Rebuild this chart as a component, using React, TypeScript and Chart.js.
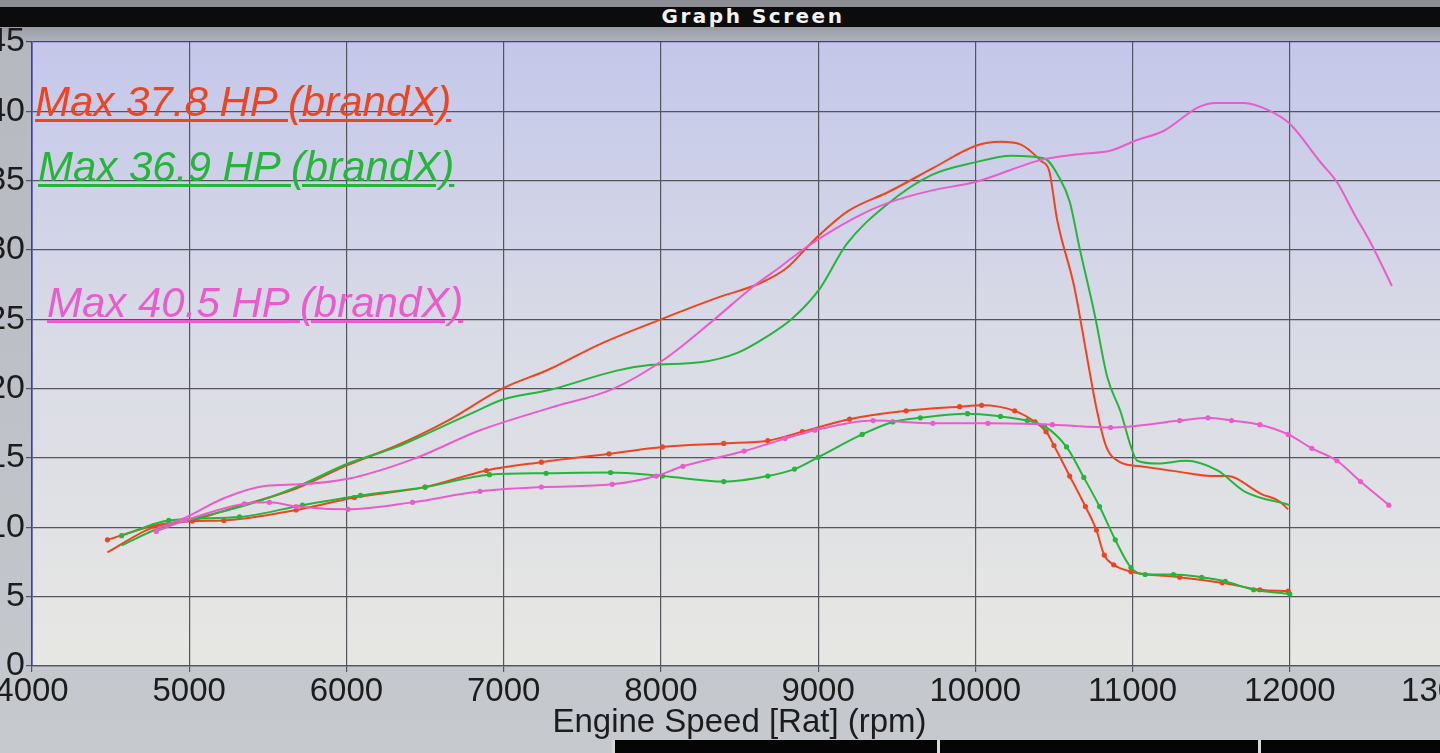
import React, { useEffect, useRef } from 'react';
import { Chart, ChartOptions, Plugin, registerables } from 'chart.js';

Chart.register(...registerables);

// rpm ticks and value ticks of the dyno screen
const rpmTicks = [4000, 5000, 6000, 7000, 8000, 9000, 10000, 11000, 12000, 13000];
const valueTicks = [0, 5, 10, 15, 20, 25, 30, 35, 40, 45];

// red run (Max 37.8 HP)
const redHpRpm = [4480, 4770, 5020, 5280, 5680, 6010, 6320, 6630, 6990, 7290, 7610, 8000, 8370, 8630, 8800, 8930, 9010, 9190, 9450, 9730, 10000, 10160, 10290, 10420, 10470, 10520, 10630, 10710, 10770, 10830, 10920, 11050, 11300, 11500, 11600, 11820, 11930, 11990];
const redHp = [8.2, 10.0, 10.5, 11.4, 12.8, 14.5, 15.9, 17.6, 20.0, 21.4, 23.2, 25.0, 26.6, 27.6, 28.7, 30.2, 31.1, 32.8, 34.2, 35.9, 37.5, 37.8, 37.6, 36.4, 35.7, 32.2, 27.3, 22.3, 18.6, 15.9, 14.7, 14.4, 14.0, 13.7, 13.7, 12.4, 11.9, 11.3];
const redTqRpm = [4480, 4770, 5020, 5220, 5680, 6050, 6500, 6890, 7240, 7670, 8010, 8400, 8680, 8900, 9200, 9560, 9900, 10040, 10250, 10380, 10450, 10500, 10600, 10700, 10770, 10820, 10880, 10990, 11300, 11570, 11810, 11990];
const redTq = [9.1, 10.1, 10.45, 10.5, 11.25, 12.15, 12.9, 14.1, 14.7, 15.3, 15.8, 16.05, 16.25, 16.9, 17.8, 18.4, 18.7, 18.8, 18.4, 17.6, 16.9, 15.9, 13.7, 11.5, 9.8, 8.0, 7.3, 6.8, 6.4, 6.0, 5.5, 5.4];

// green run (Max 36.9 HP)
const greenHpRpm = [4570, 4800, 5020, 5390, 5680, 6010, 6320, 6520, 6830, 6990, 7290, 7720, 7930, 8250, 8490, 8680, 8830, 9010, 9180, 9440, 9720, 9990, 10230, 10440, 10530, 10600, 10660, 10760, 10840, 10925, 10990, 11030, 11160, 11340, 11540, 11710, 12000];
const greenHp = [8.7, 9.9, 10.6, 11.7, 12.9, 14.6, 15.8, 16.8, 18.4, 19.2, 19.9, 21.3, 21.7, 21.9, 22.6, 23.8, 25.0, 27.2, 30.4, 33.3, 35.4, 36.3, 36.8, 36.6, 35.3, 33.5, 30.3, 25.3, 20.8, 18.3, 15.8, 14.8, 14.6, 14.8, 14.1, 12.6, 11.6];
const greenTqRpm = [4570, 4870, 5320, 5720, 6090, 6500, 6910, 7270, 7680, 8010, 8400, 8680, 8850, 9000, 9280, 9475, 9650, 9950, 10160, 10330, 10440, 10580, 10690, 10790, 10890, 10990, 11080, 11260, 11440, 11590, 11770, 12000];
const greenTq = [9.4, 10.5, 10.75, 11.6, 12.3, 12.9, 13.8, 13.9, 13.95, 13.7, 13.3, 13.7, 14.2, 15.05, 16.7, 17.6, 17.9, 18.2, 18.0, 17.7, 17.3, 15.8, 13.6, 11.5, 9.1, 7.1, 6.6, 6.6, 6.4, 6.1, 5.5, 5.2];

// pink run (Max 40.5 HP)
const pinkHpRpm = [4790, 4975, 5220, 5490, 5700, 6010, 6420, 6850, 7290, 7700, 8020, 8320, 8580, 8750, 8925, 9230, 9445, 9725, 10000, 10420, 10650, 10870, 11020, 11200, 11420, 11530, 11710, 11860, 12000, 12190, 12300, 12410, 12520, 12650];
const pinkHp = [9.9, 10.7, 12.1, 13.0, 13.1, 13.5, 14.9, 17.0, 18.6, 20.0, 22.1, 24.8, 27.3, 28.7, 30.2, 32.3, 33.4, 34.3, 34.9, 36.5, 36.9, 37.2, 37.9, 38.6, 40.3, 40.6, 40.6, 40.1, 39.1, 36.4, 34.9, 32.6, 30.4, 27.4];
const pinkTqRpm = [4790, 4975, 5350, 5510, 5680, 6010, 6420, 6850, 7240, 7690, 7970, 8140, 8530, 8790, 8980, 9350, 9730, 10080, 10490, 10860, 11300, 11480, 11630, 11810, 11990, 12140, 12300, 12450, 12630];
const pinkTq = [9.7, 10.5, 11.7, 11.8, 11.5, 11.3, 11.8, 12.6, 12.9, 13.1, 13.7, 14.4, 15.5, 16.4, 17.0, 17.7, 17.5, 17.5, 17.4, 17.2, 17.7, 17.9, 17.7, 17.4, 16.7, 15.7, 14.8, 13.3, 11.6];

const RED = '#ee4420';
const GREEN = '#25b53a';
const PINK = '#ea5ccb';

const runLabels = [
    { text: 'Max 37.8 HP (brandX)', color: RED, left: 35, top: 81 },
    { text: 'Max 36.9 HP (brandX)', color: GREEN, left: 38, top: 146 },
    { text: 'Max 40.5 HP (brandX)', color: PINK, left: 47, top: 282 },
];

const toPoints = (rpm: number[], vals: number[]) => rpm.map((r, i) => ({ x: r, y: vals[i] }));

const plotBackground: Plugin<'line'> = {
    id: 'plotBackground',
    beforeDraw(chart) {
        const { ctx, chartArea } = chart;
        const { left, top, right, bottom } = chartArea;
        const g = ctx.createLinearGradient(0, top, 0, bottom);
        g.addColorStop(0, '#c4c7ea');
        g.addColorStop(0.45, '#d8dae6');
        g.addColorStop(1, '#e7e7e3');
        ctx.save();
        ctx.fillStyle = g;
        ctx.fillRect(left, top, right - left, bottom - top);
        ctx.restore();
    },
};

const line = (data: { x: number; y: number }[], color: string, dots: boolean) => ({
    data,
    borderColor: color,
    backgroundColor: color,
    borderWidth: 2,
    pointRadius: dots ? 2.6 : 0,
    pointBorderWidth: 0,
    cubicInterpolationMode: 'monotone' as const,
    fill: false,
});

const DynoChart: React.FC = () => {
    const chartRef = useRef<HTMLCanvasElement>(null);

    useEffect(() => {
        const ctx = chartRef.current?.getContext('2d');
        if (!ctx) return;

        const options: ChartOptions<'line'> = {
            responsive: false,
            animation: false,
            layout: { padding: { top: 42, right: 53, bottom: 0, left: 0 } },
            plugins: { legend: { display: false }, tooltip: { enabled: false } },
            scales: {
                x: {
                    type: 'linear',
                    min: 4000,
                    max: 13000,
                    afterBuildTicks: (scale) => {
                        scale.ticks = rpmTicks.map((v) => ({ value: v }));
                    },
                    afterFit: (scale) => {
                        scale.height = 79;
                    },
                    grid: { color: '#55555e', lineWidth: 1.2, tickLength: 6 },
                    border: { color: '#55555e', width: 1.2 },
                    ticks: {
                        autoSkip: false,
                        maxRotation: 0,
                        padding: 0,
                        color: '#1c1c1c',
                        font: { family: 'Liberation Sans', size: 33 },
                        callback: (v) => String(v),
                    },
                    title: {
                        display: true,
                        text: 'Engine Speed [Rat] (rpm)',
                        color: '#1c1c1c',
                        font: { family: 'Liberation Sans', size: 33 },
                        padding: { top: 0, bottom: 2 },
                    },
                },
                y: {
                    min: 0,
                    max: 45,
                    afterBuildTicks: (scale) => {
                        scale.ticks = valueTicks.map((v) => ({ value: v }));
                    },
                    afterFit: (scale) => {
                        scale.width = 62;
                    },
                    grid: {
                        color: (c) => (c.tick && c.tick.value === 45 ? '#3d3da6' : '#55555e'),
                        lineWidth: 1.2,
                        tickLength: 6,
                    },
                    border: { color: '#3d3da6', width: 1.6 },
                    ticks: {
                        padding: 1,
                        color: '#1c1c1c',
                        font: { family: 'Liberation Sans', size: 34 },
                        callback: (v) => String(v),
                    },
                },
            },
        };

        const chart = new Chart(ctx, {
            type: 'line',
            data: {
                datasets: [
                    line(toPoints(pinkTqRpm, pinkTq), PINK, true),
                    line(toPoints(pinkHpRpm, pinkHp), PINK, false),
                    line(toPoints(greenTqRpm, greenTq), GREEN, true),
                    line(toPoints(greenHpRpm, greenHp), GREEN, false),
                    line(toPoints(redTqRpm, redTq), RED, true),
                    line(toPoints(redHpRpm, redHp), RED, false),
                ],
            },
            options,
            plugins: [plotBackground],
        });

        return () => {
            chart.destroy();
        };
    }, []);

    return (
        <canvas
            ref={chartRef}
            width={1530}
            height={745}
            style={{ position: 'absolute', left: -30, top: 0, display: 'block' }}
        />
    );
};

const App: React.FC = () => {
    return (
        <div
            style={{
                position: 'fixed',
                left: 0,
                top: 0,
                width: 1440,
                height: 753,
                overflow: 'hidden',
                background: 'linear-gradient(#b4b7be, #c6c9ce)',
            }}
        >
            <div style={{ position: 'absolute', left: 0, top: 0, width: 1440, height: 7, background: '#8d8f95' }} />
            <div style={{ position: 'absolute', left: 0, top: 7, width: 1440, height: 20, background: '#0c0c0c' }} />
            <div
                style={{
                    position: 'absolute',
                    left: 0,
                    top: 27,
                    width: 1440,
                    height: 14,
                    background: 'linear-gradient(#9a9ca4, #aeb1ba)',
                }}
            />
            <div
                style={{
                    position: 'absolute',
                    left: 643,
                    top: 5,
                    width: 220,
                    textAlign: 'center',
                    color: '#f2f2f2',
                    fontFamily: 'DejaVu Sans',
                    fontWeight: 'bold',
                    fontSize: 20,
                    letterSpacing: 2.5,
                    lineHeight: '22px',
                }}
            >
                Graph Screen
            </div>
            <DynoChart />
            {runLabels.map((l) => (
                <div
                    key={l.text}
                    style={{
                        position: 'absolute',
                        left: l.left,
                        top: l.top,
                        color: l.color,
                        fontFamily: 'Liberation Sans',
                        fontStyle: 'italic',
                        fontSize: 42,
                        lineHeight: '42px',
                        whiteSpace: 'nowrap',
                        textDecoration: 'underline',
                        textDecorationThickness: 3,
                        textUnderlineOffset: 3,
                        pointerEvents: 'none',
                    }}
                >
                    {l.text}
                </div>
            ))}
            <div
                style={{
                    position: 'absolute',
                    left: 612,
                    top: 740,
                    width: 828,
                    height: 13,
                    background: '#050505',
                    overflow: 'hidden',
                }}
            >
                <div style={{ position: 'absolute', left: 0, top: 0, width: 3, height: 13, background: '#d8d8d8' }} />
                <div style={{ position: 'absolute', left: 325, top: 0, width: 3, height: 13, background: '#d8d8d8' }} />
                <div style={{ position: 'absolute', left: 646, top: 0, width: 3, height: 13, background: '#d8d8d8' }} />
            </div>
        </div>
    );
};

export default App;
